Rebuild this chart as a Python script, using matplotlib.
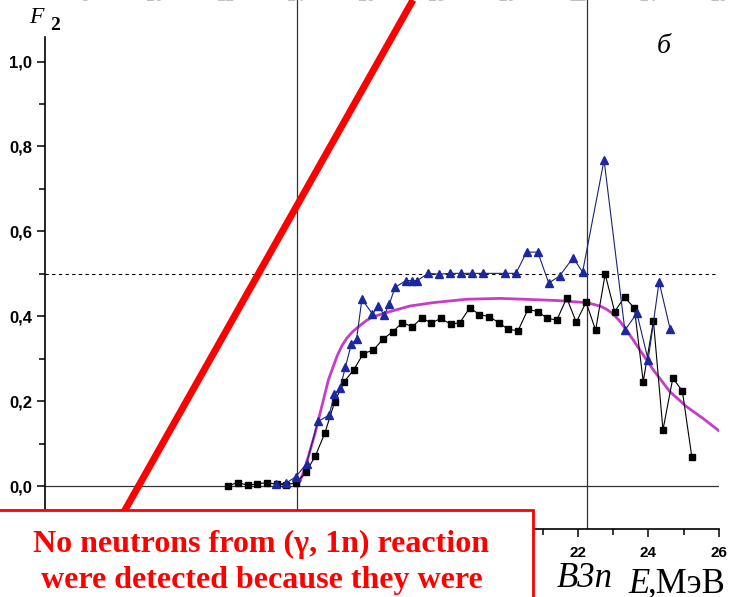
import matplotlib.pyplot as plt
from matplotlib.patches import Rectangle
from matplotlib.lines import Line2D
from matplotlib.ticker import MultipleLocator, FixedLocator, FuncFormatter
import matplotlib.transforms as mtransforms

# black squares
E_sq = [12.08, 12.35, 12.63, 12.90, 13.18, 13.45, 13.73, 14.01, 14.28, 14.55,
        14.82, 15.10, 15.37, 15.64, 15.91, 16.19, 16.47, 16.75, 17.02, 17.30,
        17.57, 17.84, 18.11, 18.39, 18.65, 18.93, 19.20, 19.48, 19.75, 20.02,
        20.30, 20.58, 20.86, 21.13, 21.40, 21.68, 21.95, 22.23, 22.50, 22.77,
        23.04, 23.32, 23.60, 23.85, 24.14, 24.41, 24.69, 24.96, 25.23]
F_sq = [0.001, 0.008, 0.002, 0.005, 0.008, 0.004, 0.003, 0.008, 0.032, 0.071,
        0.125, 0.199, 0.246, 0.274, 0.312, 0.320, 0.346, 0.364, 0.385, 0.375,
        0.396, 0.384, 0.395, 0.381, 0.385, 0.420, 0.404, 0.399, 0.385, 0.369,
        0.366, 0.416, 0.411, 0.395, 0.391, 0.443, 0.386, 0.433, 0.367, 0.499,
        0.411, 0.445, 0.419, 0.246, 0.389, 0.132, 0.254, 0.224, 0.068]

# blue triangles
E_tr = [13.43, 13.72, 14.00, 14.30, 14.62, 14.94, 15.09, 15.25, 15.40, 15.57,
        15.72, 15.87, 16.17, 16.34, 16.50, 16.65, 16.81, 17.12, 17.28, 17.44,
        17.75, 18.06, 18.37, 18.67, 18.98, 19.30, 19.94, 20.24, 20.54, 20.86,
        21.17, 21.48, 21.86, 22.13, 22.74, 23.33, 23.67, 23.99, 24.30, 24.61]
F_tr = [0.004, 0.007, 0.022, 0.053, 0.152, 0.167, 0.216, 0.230, 0.280, 0.334,
        0.347, 0.440, 0.405, 0.425, 0.402, 0.429, 0.468, 0.484, 0.484, 0.484,
        0.501, 0.499, 0.501, 0.501, 0.501, 0.501, 0.501, 0.501, 0.551, 0.551,
        0.478, 0.495, 0.538, 0.504, 0.768, 0.367, 0.407, 0.297, 0.481, 0.371]

# magenta curve
E_fit = [14.03, 14.12, 14.22, 14.35, 14.54, 14.73, 14.92, 15.16, 15.30, 15.44,
         15.60, 15.77, 16.00, 16.19, 16.67, 17.23, 17.89, 18.84, 19.79, 20.45,
         21.40, 22.25, 22.62, 22.80, 23.00, 23.19, 23.38, 23.76, 24.14, 24.61,
         25.08, 25.55, 26.00]
F_fit = [0.000, 0.012, 0.035, 0.069, 0.124, 0.187, 0.250, 0.305, 0.330, 0.348,
         0.363, 0.375, 0.390, 0.399, 0.411, 0.424, 0.432, 0.440, 0.442, 0.440,
         0.437, 0.432, 0.424, 0.417, 0.405, 0.388, 0.367, 0.320, 0.273, 0.222,
         0.187, 0.159, 0.130]

E_threshold = 14.03   # vertical line at the rise
E_B3n = 22.26         # B3n
F_level = 0.5         # dashed level
y_minor = [0.1, 0.3, 0.5, 0.7, 0.9]
upper_labels = ['8', '10', '12', '14', '16', '18', '20', '22', '24', '26']  # cut-off panel above
upper_pos = [8, 10, 12, 14, 16, 18, 20, 22, 24, 26]

W, H = 732, 597
fig = plt.figure(figsize=(W / 100, H / 100), dpi=100)
ax = fig.add_axes([45 / W, 68 / H, 674 / W, 529 / H])
ax.set_xlim(6.88, 26)
ax.set_ylim(-0.1013, 1.145)

ax.spines['top'].set_visible(False)
ax.spines['right'].set_visible(False)
ax.spines['left'].set_bounds(-0.1013, 1.058)
ax.spines['left'].set_linewidth(1.2)
ax.spines['bottom'].set_linewidth(1.2)

# reference lines
ax.axhline(0, color='#333333', lw=0.9, zorder=1)
ax.axhline(F_level, xmax=0.994, color='black', lw=0.8, ls=(0, (3, 3)), zorder=1)
ax.axvline(E_threshold, color='#333333', lw=0.9, zorder=1)
ax.axvline(E_B3n, color='#333333', lw=0.9, zorder=1)

ax.plot(E_fit, F_fit, color='#c83cc8', lw=2, zorder=3)
ax.plot(E_sq, F_sq, '-s', color='black', lw=0.8, ms=4.5, zorder=4)
ax.plot(E_tr, F_tr, '-', color='#1a2370', lw=0.8, zorder=4)
ax.plot(E_tr, F_tr, '^', color='#1c28a0', ms=6, zorder=5)

# ticks
ax.xaxis.set_major_locator(MultipleLocator(2))
ax.xaxis.set_minor_locator(MultipleLocator(1))
ax.yaxis.set_major_locator(FixedLocator([0.0, 0.2, 0.4, 0.6, 0.8, 1.0]))
ax.yaxis.set_minor_locator(FixedLocator(y_minor))
ax.yaxis.set_major_formatter(FuncFormatter(lambda v, p: f'{v:.1f}'.replace('.', ',')))
ax.xaxis.set_major_formatter(FuncFormatter(lambda v, p: f'{v:.0f}'))
ax.tick_params(axis='both', which='major', length=6, width=1.1, direction='out')
ax.tick_params(axis='both', which='minor', length=4, width=1.1, direction='out')
ax.tick_params(axis='x', pad=6)
ax.tick_params(axis='y', pad=3)
for lab in ax.get_xticklabels():
    lab.set_fontfamily('Liberation Sans')
    lab.set_fontweight('bold')
    lab.set_fontsize(11)
for lab in ax.get_yticklabels():
    lab.set_fontfamily('Liberation Sans')
    lab.set_fontweight('bold')
    lab.set_fontsize(12)

# cut-off tick labels of the panel above (only their lower edge is seen)
trans = mtransforms.blended_transform_factory(ax.transData, fig.transFigure)
for pos, lab in zip(upper_pos, upper_labels):
    ax.text(pos, 1 - 1 / H, lab, transform=trans, ha='center', va='baseline',
            fontsize=11, fontweight='bold', family='Liberation Sans', color='0.75',
            clip_on=False)

# labels
fig.text(29 / W, (H - 23) / H, 'F', family='Liberation Serif', style='italic',
         fontsize=17, va='baseline')
fig.text(50 / W, (H - 30) / H, '2', family='Liberation Serif', fontweight='bold',
         fontsize=14, va='baseline')
fig.text(657 / W, (H - 53) / H, 'б', family='Liberation Serif', style='italic',
         fontsize=20, va='baseline')
fig.text(557 / W, (H - 587) / H, 'B3n', family='Liberation Serif', style='italic',
         fontsize=25, va='baseline')
fig.text(628 / W, (H - 593) / H, 'E', family='Liberation Serif', style='italic',
         fontsize=25, va='baseline')
fig.text(648 / W, (H - 593) / H, ',МэВ', family='Liberation Serif',
         fontsize=25, va='baseline')

# red overlay: line and note box
fig.add_artist(Line2D([75.9 / W, 413 / W], [0, 1], transform=fig.transFigure,
                      color='red', lw=5, solid_capstyle='butt', zorder=9))
fig.add_artist(Rectangle((-0.01, -0.02), 533 / W + 0.01, 87 / H + 0.02,
                         transform=fig.transFigure, facecolor='white',
                         edgecolor='red', lw=2, zorder=10))
fig.text(261 / W, (H - 552) / H, 'No neutrons from (γ, 1n) reaction', ha='center',
         va='baseline', color='red', fontweight='bold', family='Liberation Serif',
         fontsize=23, zorder=11)
fig.text(262 / W, (H - 588) / H, 'were detected because they were', ha='center',
         va='baseline', color='red', fontweight='bold', family='Liberation Serif',
         fontsize=23, zorder=11)

plt.savefig('out.png', dpi=100)
